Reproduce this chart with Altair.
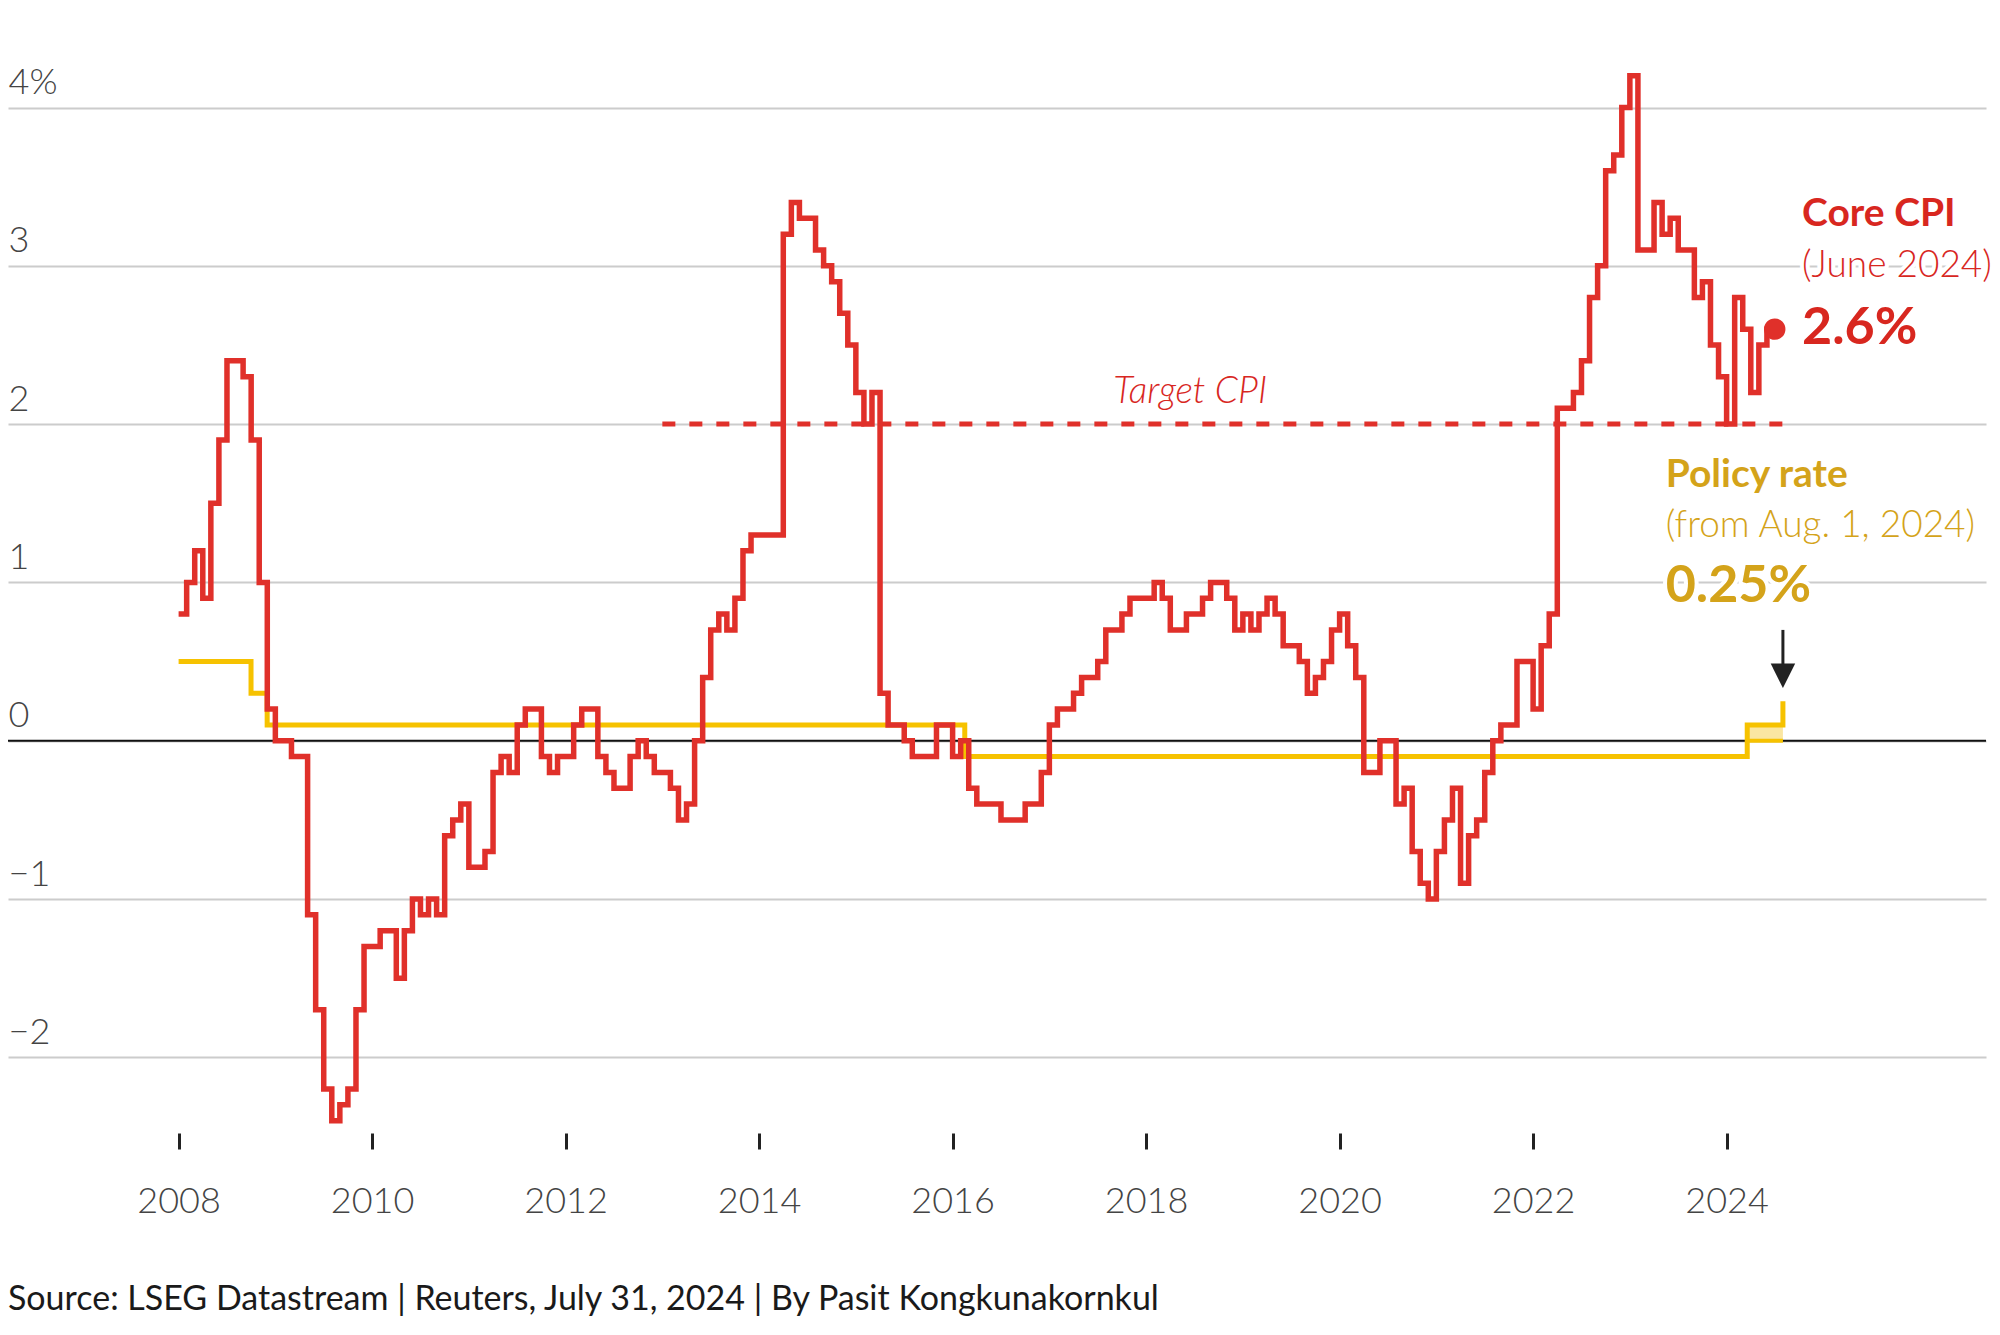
import altair as alt
import pandas as pd
import datetime as dt

# ---------------- data ----------------
cpi_start = "2008-01-01"
core_cpi = [
    0.8, 1.0, 1.2, 0.9, 1.5, 1.9, 2.4, 2.4, 2.3, 1.9, 1.0, 0.2,        # 2008
    0.0, 0.0, -0.1, -0.1, -1.1, -1.7, -2.2, -2.4, -2.3, -2.2, -1.7, -1.3,  # 2009
    -1.3, -1.2, -1.2, -1.5, -1.2, -1.0, -1.1, -1.0, -1.1, -0.6, -0.5, -0.4,  # 2010
    -0.8, -0.8, -0.7, -0.2, -0.1, -0.2, 0.1, 0.2, 0.2, -0.1, -0.2, -0.1,  # 2011
    -0.1, 0.1, 0.2, 0.2, -0.1, -0.2, -0.3, -0.3, -0.1, 0.0, -0.1, -0.2,  # 2012
    -0.2, -0.3, -0.5, -0.4, 0.0, 0.4, 0.7, 0.8, 0.7, 0.9, 1.2, 1.3,      # 2013
    1.3, 1.3, 1.3, 3.2, 3.4, 3.3, 3.3, 3.1, 3.0, 2.9, 2.7, 2.5,          # 2014
    2.2, 2.0, 2.2, 0.3, 0.1, 0.1, 0.0, -0.1, -0.1, -0.1, 0.1, 0.1,       # 2015
    -0.1, 0.0, -0.3, -0.4, -0.4, -0.4, -0.5, -0.5, -0.5, -0.4, -0.4, -0.2,  # 2016
    0.1, 0.2, 0.2, 0.3, 0.4, 0.4, 0.5, 0.7, 0.7, 0.8, 0.9, 0.9,          # 2017
    0.9, 1.0, 0.9, 0.7, 0.7, 0.8, 0.8, 0.9, 1.0, 1.0, 0.9, 0.7,          # 2018
    0.8, 0.7, 0.8, 0.9, 0.8, 0.6, 0.6, 0.5, 0.3, 0.4, 0.5, 0.7,          # 2019
    0.8, 0.6, 0.4, -0.2, -0.2, 0.0, 0.0, -0.4, -0.3, -0.7, -0.9, -1.0,   # 2020
    -0.7, -0.5, -0.3, -0.9, -0.6, -0.5, -0.2, 0.0, 0.1, 0.1, 0.5, 0.5,   # 2021
    0.2, 0.6, 0.8, 2.1, 2.1, 2.2, 2.4, 2.8, 3.0, 3.6, 3.7, 4.0,          # 2022
    4.2, 3.1, 3.1, 3.4, 3.2, 3.3, 3.1, 3.1, 2.8, 2.9, 2.5, 2.3,          # 2023
    2.0, 2.8, 2.6, 2.2, 2.5, 2.6,                                        # 2024
]

policy_dates = ["2008-01-01", "2008-10-01", "2008-12-01", "2016-02-16", "2024-03-19", "2024-08-01"]
policy_rate = [0.5, 0.3, 0.1, -0.1, 0.1, 0.25]

band_dates = ["2024-03-19", "2024-08-01"]
band_low = [0.0, 0.0]
band_high = [0.1, 0.1]

target_dates = ["2013-01-01", "2024-08-01"]
target_value = [2.0, 2.0]

y_ticks = [-2, -1, 0, 1, 2, 3, 4]
x_ticks = [2008, 2010, 2012, 2014, 2016, 2018, 2020, 2022, 2024]

latest_cpi_date, latest_cpi = "2024-07-01", 2.6
arrow_date = "2024-08-01"
arrow_top, arrow_bottom, arrow_head = 0.70, 0.47, 0.41

RED = "#e0302a"
RED_TXT = "#d8271f"
GOLD_LINE = "#f6c200"
GOLD_TXT = "#d4a31a"
FONT = "Lato"


def dec(s):
    d = dt.date.fromisoformat(s)
    y0 = dt.date(d.year, 1, 1)
    y1 = dt.date(d.year + 1, 1, 1)
    return d.year + (d - y0).days / (y1 - y0).days


y0 = dt.date.fromisoformat(cpi_start).year
cpi_x = [y0 + i / 12 for i in range(len(core_cpi))]
cpi_df = pd.DataFrame({"x": cpi_x + [dec(latest_cpi_date)], "y": core_cpi + [core_cpi[-1]]})
pol_df = pd.DataFrame({"x": [dec(d) for d in policy_dates], "y": policy_rate})
band_df = pd.DataFrame({"x": [dec(d) for d in band_dates], "lo": band_low, "hi": band_high})
tgt_df = pd.DataFrame({"x": [dec(d) for d in target_dates], "y": target_value})
dot_df = pd.DataFrame({"x": [dec(latest_cpi_date)], "y": [latest_cpi]})
arrow_df = pd.DataFrame({"x": [dec(arrow_date)], "y": [arrow_top], "y2": [arrow_bottom], "h": [arrow_head]})

# annotation texts
bold_df = pd.DataFrame({
    "x": [2024.78, 2023.37], "y": [3.33, 1.68],
    "t": ["Core CPI", "Policy rate"], "c": [RED_TXT, GOLD_TXT]})
light_df = pd.DataFrame({
    "x": [2024.78, 2023.37], "y": [3.0, 1.355],
    "t": ["(June 2024)", "(from Aug. 1, 2024)"], "c": [RED_TXT, GOLD_TXT]})
big_df = pd.DataFrame({
    "x": [2024.78, 2023.37], "y": [2.61, 0.975],
    "t": ["2.6%", "0.25%"], "c": [RED_TXT, GOLD_TXT]})
tgt_lbl_df = pd.DataFrame({"x": [2018.455], "y": [2.2], "t": ["Target CPI"]})

X_DOMAIN = [2006.2367, 2026.681]
Y_DOMAIN = [-2.478, 4.6286]

xs = alt.Scale(domain=X_DOMAIN, nice=False, zero=False)
ys = alt.Scale(domain=Y_DOMAIN, nice=False, zero=False)

x_axis = alt.Axis(values=x_ticks, format="d", grid=False, domain=False,
                  tickColor="#222222", tickWidth=3, tickSize=16,
                  labelFont=FONT, labelFontSize=36, labelFontWeight=300,
                  labelColor="#444444", labelPadding=63, labelBaseline="alphabetic",
                  labelFlush=False, title=None)
y_axis = alt.Axis(values=y_ticks, grid=True, gridColor="#cccccc", gridWidth=2,
                  domain=False, ticks=False, labelAlign="left", labelBaseline="alphabetic",
                  labelPadding=0, labelOffset=-14, labelFont=FONT, labelFontSize=36,
                  labelFontWeight=300, labelColor="#444444", title=None,
                  labelExpr="datum.value == 4 ? '4%' : (datum.value < 0 ? '\u2212' + abs(datum.value) : '' + datum.value)")

base_axes = alt.Chart(pd.DataFrame({"y": y_ticks})).mark_point(opacity=0).encode(
    x=alt.X("x:Q", scale=xs, axis=x_axis),
    y=alt.Y("y:Q", scale=ys, axis=y_axis),
).transform_calculate(x="2008")

zero = alt.Chart(pd.DataFrame({"y": [0]})).mark_rule(color="#111111", strokeWidth=2).encode(
    y=alt.Y("y:Q", scale=ys))

target = alt.Chart(tgt_df).mark_line(color=RED, strokeWidth=5, strokeDash=[13, 14]).encode(
    x=alt.X("x:Q", scale=xs), y=alt.Y("y:Q", scale=ys))

band = alt.Chart(band_df).mark_area(color="#f8dc7a", opacity=0.7).encode(
    x=alt.X("x:Q", scale=xs), y=alt.Y("lo:Q", scale=ys), y2="hi:Q")
band_low_line = alt.Chart(band_df).mark_line(color=GOLD_LINE, strokeWidth=4).encode(
    x=alt.X("x:Q", scale=xs), y=alt.Y("lo:Q", scale=ys))

policy = alt.Chart(pol_df).mark_line(color=GOLD_LINE, strokeWidth=5, interpolate="step-after").encode(
    x=alt.X("x:Q", scale=xs), y=alt.Y("y:Q", scale=ys))

cpi = alt.Chart(cpi_df).mark_line(color=RED, strokeWidth=5.5, interpolate="step-after",
                                  strokeJoin="miter").encode(
    x=alt.X("x:Q", scale=xs), y=alt.Y("y:Q", scale=ys))

dot = alt.Chart(dot_df).mark_circle(color=RED, size=460, opacity=1).encode(
    x=alt.X("x:Q", scale=xs), y=alt.Y("y:Q", scale=ys))

arrow_line = alt.Chart(arrow_df).mark_rule(color="#222222", strokeWidth=3).encode(
    x=alt.X("x:Q", scale=xs), y=alt.Y("y:Q", scale=ys), y2="y2:Q")
arrow_head_m = alt.Chart(arrow_df).mark_point(shape="M-1,-1L1,-1L0,1Z", filled=True,
                                              color="#222222", size=600, opacity=1).encode(
    x=alt.X("x:Q", scale=xs), y=alt.Y("h:Q", scale=ys))


def text_layer(df, size, weight, style=None, align="left"):
    kw = dict(font=FONT, fontSize=size, fontWeight=weight, align=align, baseline="middle")
    if style:
        kw["fontStyle"] = style
    halo = alt.Chart(df).mark_text(color="white", stroke="white", strokeWidth=8,
                                   strokeJoin="round", **kw).encode(
        x=alt.X("x:Q", scale=xs), y=alt.Y("y:Q", scale=ys), text="t:N")
    if "c" in df.columns:
        col = alt.Color("c:N", scale=None)
    else:
        col = alt.value(RED_TXT)
    txt = alt.Chart(df).mark_text(**kw).encode(
        x=alt.X("x:Q", scale=xs), y=alt.Y("y:Q", scale=ys), text="t:N", color=col)
    return halo + txt


source = alt.Chart(pd.DataFrame({"t": ["Source: LSEG Datastream | Reuters, July 31, 2024 | By Pasit Kongkunakornkul"]})).mark_text(
    font=FONT, fontSize=34, fontWeight=400, color="#1a1a1a", align="left", baseline="middle").encode(
    x=alt.value(0), y=alt.value(1292), text="t:N")

chart = alt.layer(
    base_axes, zero, target, band, band_low_line, policy, cpi, dot, arrow_line, arrow_head_m,
    text_layer(tgt_lbl_df, 37, 300, style="italic", align="center"),
    text_layer(bold_df, 39, 700),
    text_layer(light_df, 37, 300),
    text_layer(big_df, 52, 700),
    source,
).properties(
    width=1978, height=1125,
    autosize=alt.AutoSizeParams(type="none"),
    padding={"left": 0, "top": 0, "right": 6, "bottom": 192},
    background="white",
).configure_view(stroke=None)

chart.save("out.html", embed_options={"renderer": "svg", "actions": False})
